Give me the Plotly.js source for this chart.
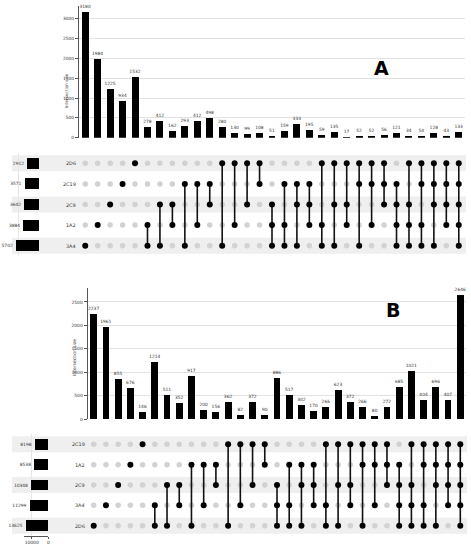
<!DOCTYPE html>
<html><head><meta charset="utf-8">
<script src="https://cdn.plot.ly/plotly-3.0.1.min.js"></script>
<style>html,body{margin:0;padding:0;background:#fff}</style>
</head><body><div id="chart" style="width:471px;height:550px"></div>
<script>
// ---------- Panel A data ----------
const setsA = ['2D6','2C19','2C9','1A2','3A4'];           // matrix rows, top to bottom
const setSizesA = [2912, 3571, 3642, 3884, 5702];
const combosA = ['3A4','1A2','2C9','2C19','2D6',
  '1A2&3A4','2C9&3A4','2C9&1A2','2C19&3A4','2C19&1A2','2C19&2C9','2D6&3A4','2D6&1A2','2D6&2C9','2D6&2C19',
  '2C9&1A2&3A4','2C19&1A2&3A4','2C19&2C9&3A4','2C19&2C9&1A2','2D6&1A2&3A4','2D6&2C9&3A4','2D6&2C9&1A2','2D6&2C19&3A4','2D6&2C19&1A2','2D6&2C19&2C9',
  '2C19&2C9&1A2&3A4','2D6&2C9&1A2&3A4','2D6&2C19&1A2&3A4','2D6&2C19&2C9&3A4','2D6&2C19&2C9&1A2',
  '2D6&2C19&2C9&1A2&3A4'];
const valuesA = [3180,1984,1225,934,1532,278,412,162,293,412,498,280,130,99,108,51,159,333,195,59,135,17,52,52,56,121,34,54,128,43,133];
const yTicksA = [0,500,1000,1500,2000,2500,3000];

// ---------- Panel B data ----------
const setsB = ['2C19','1A2','2C9','3A4','2D6'];           // matrix rows, top to bottom
const setSizesB = [8198, 8538, 10348, 11299, 13625];
const combosB = ['2D6','3A4','2C9','1A2','2C19',
  '3A4&2D6','2C9&2D6','2C9&3A4','1A2&2D6','1A2&3A4','1A2&2C9','2C19&2D6','2C19&3A4','2C19&2C9','2C19&1A2',
  '2C9&3A4&2D6','1A2&3A4&2D6','1A2&2C9&2D6','1A2&2C9&3A4','2C19&3A4&2D6','2C19&2C9&2D6','2C19&2C9&3A4','2C19&1A2&2D6','2C19&1A2&3A4','2C19&1A2&2C9',
  '1A2&2C9&3A4&2D6','2C19&2C9&3A4&2D6','2C19&1A2&3A4&2D6','2C19&1A2&2C9&2D6','2C19&1A2&2C9&3A4',
  '2C19&1A2&2C9&3A4&2D6'];
const valuesB = [2237,1961,855,676,146,1214,511,352,917,200,156,362,82,372,90,886,517,302,170,266,623,372,266,80,272,685,1021,404,696,407,2646];
const yTicksB = [0,500,1000,1500,2000,2500];
const setSizeTicksB = [0,10000];

// ---------- helpers ----------
const W = 471, H = 550;
const px = v => v / W;
const py = v => 1 - v / H;
const FONT = 'DejaVu Sans, sans-serif';
const TXT = '#333';
const FS = 4.4;

function panel(sets, setSizes, combos, values, ax) {
  const traces = [];
  const xs = combos.map((_, i) => i);
  traces.push({type:'bar', x: xs, y: values, xaxis: ax.bx, yaxis: ax.by,
    marker:{color:'#000'}, width:0.56, text: values.map(String), textposition:'outside',
    textfont:{size:FS, color:TXT, family:FONT}, constraintext:'none', cliponaxis:false,
    hoverinfo:'skip', showlegend:false});
  const gx = [], gy = [], kx = [], ky = [], lx = [], ly = [];
  combos.forEach((c, i) => {
    const mem = c.split('&');
    const rows = [];
    sets.forEach((s, r) => {
      if (mem.includes(s)) { kx.push(i); ky.push(r); rows.push(r); }
      else { gx.push(i); gy.push(r); }
    });
    if (rows.length > 1) {
      lx.push(i, i, null); ly.push(Math.min(...rows), Math.max(...rows), null);
    }
  });
  traces.push({type:'scatter', mode:'markers', x: gx, y: gy, xaxis: ax.bx, yaxis: ax.my,
    marker:{color:'#d2d2d2', size:5.5}, hoverinfo:'skip', showlegend:false, cliponaxis:false});
  traces.push({type:'scatter', mode:'lines', x: lx, y: ly, xaxis: ax.bx, yaxis: ax.my,
    line:{color:'#111', width:1.6}, hoverinfo:'skip', showlegend:false, connectgaps:false});
  traces.push({type:'scatter', mode:'markers', x: kx, y: ky, xaxis: ax.bx, yaxis: ax.my,
    marker:{color:'#000', size:6}, hoverinfo:'skip', showlegend:false, cliponaxis:false});
  traces.push({type:'bar', orientation:'h', x: setSizes, y: sets.map((_, r) => r),
    xaxis: ax.sx, yaxis: ax.my, marker:{color:'#000'}, width:0.53,
    text: setSizes.map(String), textposition:'outside', constraintext:'none', cliponaxis:false,
    textfont:{size:FS, color:TXT, family:FONT}, hoverinfo:'skip', showlegend:false});
  return traces;
}

const traces = [
  ...panel(setsA, setSizesA, combosA, valuesA, {bx:'x', by:'y', my:'y2', sx:'x2'}),
  ...panel(setsB, setSizesB, combosB, valuesB, {bx:'x3', by:'y3', my:'y4', sx:'x4'})
];

const tickFont = {size:FS, color:TXT, family:FONT};
const hidden = {showgrid:false, zeroline:false, showline:false, showticklabels:false, ticks:''};

const shapes = [];
const annotations = [];
function bands(sets, yref, x0, x1) {
  sets.forEach((_, r) => {
    if (r % 2 === 0) shapes.push({type:'rect', xref:'paper', yref: yref, x0: px(x0), x1: px(x1),
      y0: r - 0.39, y1: r + 0.39, fillcolor:'#efefef', line:{width:0}, layer:'below'});
  });
}
bands(setsA, 'y2', 12, 466);
bands(setsB, 'y4', 12, 467);
function setLabels(sets, yref, xRight) {
  sets.forEach((s, r) => annotations.push({text: s, xref:'paper', yref: yref, x: px(xRight), y: r,
    xanchor:'right', yanchor:'middle', showarrow:false, font:{size:4.9, color:TXT, family:FONT}}));
}
setLabels(setsA, 'y2', 78);
setLabels(setsB, 'y4', 86.5);
annotations.push({text:'Intersection size', textangle:-90, xref:'paper', yref:'paper',
  x: px(62), y: py(71), showarrow:false, font:{size:4.2, color:TXT, family:FONT}});
annotations.push({text:'Intersection size', textangle:-90, xref:'paper', yref:'paper',
  x: px(69.5), y: py(358), showarrow:false, font:{size:4.5, color:TXT, family:FONT}});
annotations.push({text:'<b>A</b>', xref:'paper', yref:'paper', x: px(391), y: py(55),
  showarrow:false, font:{size:19, color:'#000', family:'DejaVu Sans, sans-serif'}});
annotations.push({text:'<b>B</b>', xref:'paper', yref:'paper', x: px(402), y: py(310),
  showarrow:false, font:{size:19, color:'#000', family:'DejaVu Sans, sans-serif'}});

const layout = {
  width: W, height: H, margin:{l:0, r:0, t:0, b:0}, paper_bgcolor:'#fff', plot_bgcolor:'rgba(0,0,0,0)',
  font:{family:FONT}, showlegend:false, bargap:0,
  xaxis: Object.assign({domain:[px(79), px(465)], range:[-0.5, 30.5], anchor:'y'}, hidden),
  yaxis: {domain:[py(137.7), py(5.6)], range:[0, 3330], anchor:'x', tickvals: yTicksA,
    showgrid:true, gridcolor:'#e2e2e2', gridwidth:1, zeroline:false, showline:true, linecolor:'#555', linewidth:1,
    ticks:'outside', ticklen:3, tickcolor:'#555', tickfont: tickFont},
  yaxis2: Object.assign({domain:[py(256), py(153)], range:[4.5, -0.5], anchor:'x'}, hidden),
  xaxis2: {domain:[px(12), px(39)], range:[6683, 0], anchor:'y2', tickvals:[0, 5000],
    showgrid:true, gridcolor:'#e6e6e6', zeroline:false, showline:false, showticklabels:false, ticks:''},
  xaxis3: Object.assign({domain:[px(87.6), px(466.4)], range:[-0.5, 30.5], anchor:'y3'}, hidden),
  yaxis3: {domain:[py(419.3), py(288)], range:[0, 2798], anchor:'x3', tickvals: yTicksB,
    showgrid:true, gridcolor:'#e2e2e2', gridwidth:1, zeroline:false, showline:true, linecolor:'#555', linewidth:1,
    ticks:'outside', ticklen:3, tickcolor:'#555', tickfont: tickFont},
  yaxis4: Object.assign({domain:[py(535.9), py(434.1)], range:[4.5, -0.5], anchor:'x3'}, hidden),
  xaxis4: {domain:[px(24), px(48.3)], range:[14639, 0], anchor:'y4', tickvals: setSizeTicksB,
    ticktext: setSizeTicksB.map(String), showgrid:true, gridcolor:'#e6e6e6', zeroline:false,
    showline:true, linecolor:'#555', linewidth:1, ticks:'outside', ticklen:2, tickcolor:'#555', tickfont: tickFont},
  shapes, annotations
};

Plotly.newPlot('chart', traces, layout, {staticPlot:true, displayModeBar:false});
</script></body></html>
